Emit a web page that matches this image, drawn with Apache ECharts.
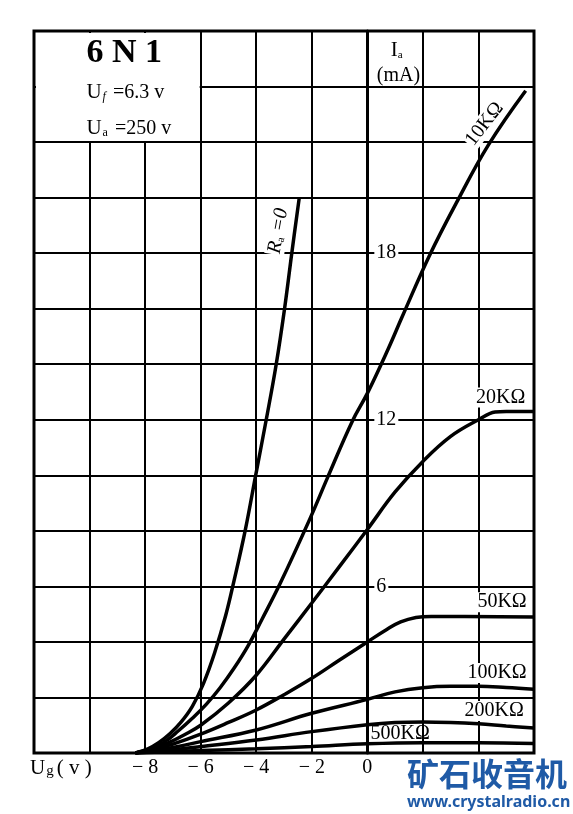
<!DOCTYPE html>
<html><head><meta charset="utf-8">
<script src="https://cdn.jsdelivr.net/npm/echarts@6/dist/echarts.min.js"></script>
<style>html,body{margin:0;padding:0;background:#fff}#main{width:573px;height:814px}</style>
</head><body><div id="main"></div>
<script>
// Tick labels
const xTickValues = [-8, -6, -4, -2, 0];
const yTickValues = [6, 12, 18];

// Curves: [Ug (V), Ia (mA)]
const curveRa0 = [[-8.35,0],[-7.9,0.15],[-7.5,0.38],[-7.1,0.7],[-6.7,1.12],[-6.3,1.68],[-5.9,2.5],[-5.5,3.6],[-5.1,4.95],[-4.8,6.2],[-4.4,8.0],[-4.02,10],[-3.64,12],[-3.28,14],[-2.98,16],[-2.72,18],[-2.45,20]];
const curve10k = [[-8.35,0],[-7.8,0.15],[-7.3,0.4],[-6.8,0.8],[-6.3,1.25],[-5.8,1.75],[-5.3,2.35],[-4.8,3.05],[-4.3,3.85],[-3.8,4.8],[-3.14,6.1],[-2.06,8.45],[-1.44,9.9],[-0.54,11.95],[0,12.95],[0.75,14.55],[1.25,15.7],[2.23,17.9],[3.2,19.8],[4.36,21.9],[5.7,23.85]];
const curve20k = [[-8.35,0],[-7.8,0.12],[-7.2,0.35],[-6.6,0.65],[-6.0,1.0],[-5.0,1.8],[-4.0,2.8],[-3.0,4.1],[-2.0,5.4],[-1.0,6.72],[0,8.05],[1.0,9.4],[2.0,10.5],[3.0,11.4],[4.0,12.0],[4.6,12.28],[5.0,12.3],[6,12.3]];
const curve50k = [[-8.35,0],[-7.6,0.15],[-7.0,0.32],[-6.0,0.68],[-5.0,1.1],[-4.0,1.55],[-3.0,2.1],[-2.0,2.69],[-1.0,3.35],[0,4.0],[0.7,4.45],[1.2,4.72],[1.75,4.88],[2.3,4.92],[6,4.9]];
const curve100k = [[-8.35,0],[-7.0,0.2],[-6.0,0.41],[-4.0,0.83],[-2.0,1.43],[0,1.93],[1,2.2],[2,2.35],[3,2.4],[4,2.4],[5,2.36],[6,2.3]];
const curve200k = [[-8.35,0],[-7.0,0.12],[-6.0,0.23],[-4.0,0.47],[-2.0,0.77],[0,1.02],[1,1.1],[2,1.12],[3,1.1],[4,1.05],[5,0.97],[6,0.9]];
const curve500k = [[-8.35,0],[-7.0,0.05],[-6.0,0.09],[-4.0,0.15],[-2.0,0.23],[0,0.33],[2,0.37],[4,0.37],[6,0.34]];

const SERIF = "'Liberation Serif','DejaVu Serif',serif";
const W = 573, GL = 34, GR = 39;
const X_MIN = -12, X_MAX = 6;
const chart = echarts.init(document.getElementById('main'));

function mkSeries(name, data) {
  return {name, type:'line', data, symbol:'none', showSymbol:false, smooth:0.4,
    lineStyle:{color:'#000', width:3.5}, z:5, silent:true};
}

// y-axis sits on Ug = 0
const yOffset = -(0 - X_MIN) / (X_MAX - X_MIN) * (W - GL - GR);

const option = {
  animation:false,
  backgroundColor:'#fff',
  grid:{left:GL, right:GR, top:31, bottom:61, show:true, borderColor:'#000', borderWidth:3, backgroundColor:'transparent'},
  xAxis:{type:'value', min:X_MIN, max:X_MAX, interval:2,
    axisLine:{show:false}, axisTick:{show:false},
    splitLine:{show:true, lineStyle:{color:'#000', width:2}},
    axisLabel:{color:'#000', fontFamily:SERIF, fontSize:20, margin:5,
      formatter:v => xTickValues.includes(v) ? (v < 0 ? '\u2212 ' + Math.abs(v) : String(v)) : ''}},
  yAxis:{type:'value', min:0, max:26, interval:2, position:'left', offset:yOffset,
    axisLine:{show:true, onZero:false, lineStyle:{color:'#000', width:3}}, axisTick:{show:false},
    splitLine:{show:true, lineStyle:{color:'#000', width:2}},
    axisLabel:{inside:true, color:'#000', fontFamily:SERIF, fontSize:20, margin:7,
      backgroundColor:'#fff', padding:[0,2,0,2],
      formatter:v => yTickValues.includes(v) ? String(v) : ''}},
  series:[
    mkSeries('Ra=0', curveRa0),
    mkSeries('10K', curve10k),
    mkSeries('20K', curve20k),
    mkSeries('50K', curve50k),
    mkSeries('100K', curve100k),
    mkSeries('200K', curve200k),
    mkSeries('500K', curve500k)
  ]
};
chart.setOption(option);

const P = (x, y) => chart.convertToPixel({gridIndex:0}, [x, y]);
function label(x, y, text, opt) {
  opt = opt || {};
  const p = P(x, y);
  return {type:'text', x:p[0], y:p[1], rotation:(opt.rot || 0) * Math.PI / 180, z:100,
    style:Object.assign({text, fill:'#000', fontFamily:SERIF, fontSize:opt.size || 20,
      align:opt.align || 'center', verticalAlign:'middle',
      backgroundColor:opt.bg === false ? null : '#fff', padding:[0,1,0,1]}, opt.style || {})};
}

const tl = P(-12, 26), br = P(-6, 22);
const bottomLeft = P(-12, 0);
const elements = [
  {type:'rect', z:90, shape:{x:tl[0] + 2, y:tl[1] + 2, width:br[0] - tl[0] - 3, height:br[1] - tl[1] - 3}, style:{fill:'#fff'}},
  label(-10.15, 25.2, '6 N 1', {size:34, align:'left', bg:false, style:{fontWeight:'bold'}}),
  label(-10.15, 23.79, '{U|U}{s|f}{r| =6.3 v}', {align:'left', bg:false, style:{rich:{
    U:{fontSize:21, fontFamily:SERIF}, s:{fontSize:12, fontStyle:'italic', fontFamily:SERIF, verticalAlign:'bottom', padding:[0,2,0,1]}, r:{fontSize:20, fontFamily:SERIF}}}}),
  label(-10.15, 22.49, '{U|U}{s|a}{r| =250 v}', {align:'left', bg:false, style:{rich:{
    U:{fontSize:21, fontFamily:SERIF}, s:{fontSize:12, fontFamily:SERIF, verticalAlign:'bottom', padding:[0,2,0,1]}, r:{fontSize:20, fontFamily:SERIF}}}}),
  label(1.06, 25.3, '{U|I}{s|a}', {style:{rich:{U:{fontSize:21, fontFamily:SERIF}, s:{fontSize:11, fontFamily:SERIF, verticalAlign:'bottom'}}}}),
  label(1.12, 24.38, '(mA)', {size:20}),
  label(-3.21, 18.8, '{R|R}{s|a}{r| =0}', {rot:80, style:{rich:{R:{fontSize:20, fontStyle:'italic', fontFamily:SERIF}, s:{fontSize:11, fontFamily:SERIF, verticalAlign:'bottom'}, r:{fontSize:20, fontStyle:'italic', fontFamily:SERIF}}}}),
  label(4.22, 22.65, '10K\u03A9', {rot:52}),
  label(4.8, 12.8, '20K\u03A9'),
  label(4.85, 5.43, '50K\u03A9'),
  label(4.67, 2.88, '100K\u03A9'),
  label(4.57, 1.51, '200K\u03A9'),
  label(1.18, 0.7, '500K\u03A9', {bg:false}),
  {type:'text', x:bottomLeft[0] - 4, y:bottomLeft[1] + 15, z:100,
    style:{text:'{U|U}{g|g}{r|( v )}', fill:'#000', align:'left', verticalAlign:'middle',
      rich:{U:{fontSize:21, fontFamily:SERIF}, g:{fontSize:15, fontFamily:SERIF, verticalAlign:'bottom', padding:[0,3,0,1]}, r:{fontSize:21, fontFamily:SERIF}}}},
  {type:'text', x:407, y:774, z:100, style:{text:'矿石收音机', fill:'#1f5aa6', fontFamily:"'Noto Sans CJK SC'", fontWeight:'bold', fontSize:32, align:'left', verticalAlign:'middle'}},
  {type:'text', x:407, y:802, z:100, style:{text:'www.crystalradio.cn', fill:'#1f5aa6', fontFamily:"'Noto Sans'", fontWeight:'bold', fontSize:16, align:'left', verticalAlign:'middle'}}
];
chart.setOption({graphic:{elements}});
</script>
</body></html>
